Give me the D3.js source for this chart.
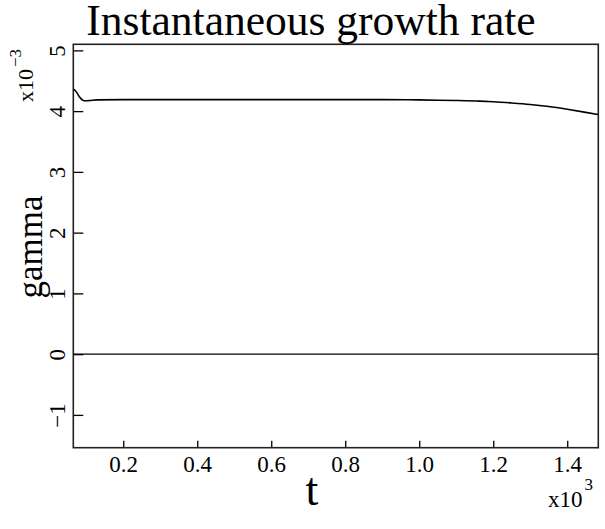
<!DOCTYPE html>
<html>
<head>
<meta charset="utf-8">
<script src="https://cdn.jsdelivr.net/npm/d3@7"></script>
<style>
  body { margin: 0; background: #fff; }
  text { font-family: "Liberation Serif", "Times New Roman", serif; fill: #000; }
</style>
</head>
<body>
<svg id="svg1"></svg>
<script>

// t in units of 10^3, gamma in units of 10^-3
var tVals = [0.065, 0.07, 0.075, 0.08, 0.085, 0.09, 0.095, 0.10, 0.11, 0.13, 0.2, 0.4, 0.6, 0.8, 0.9, 1.0, 1.05, 1.1, 1.164, 1.2, 1.25, 1.3, 1.35, 1.4, 1.45, 1.483];
var gammaVals = [4.36, 4.34, 4.30, 4.25, 4.21, 4.18, 4.17, 4.17, 4.175, 4.185, 4.19, 4.19, 4.19, 4.19, 4.19, 4.185, 4.18, 4.175, 4.165, 4.155, 4.135, 4.11, 4.075, 4.03, 3.98, 3.944];
var xTicks = [0.2, 0.4, 0.6, 0.8, 1.0, 1.2, 1.4];
var yTicks = [-1, 0, 1, 2, 3, 4, 5];

var width = 605, height = 529;
var margin = {top: 44.3, right: 6.7, bottom: 81.3, left: 73.3};
var w = width - margin.left - margin.right;
var h = height - margin.top - margin.bottom;

var svg = d3.select("#svg1")
    .attr("width", width)
    .attr("height", height);

var g = svg.append("g")
    .attr("transform", "translate(" + margin.left + "," + margin.top + ")");

var x = d3.scaleLinear()
    .domain([0.065, 1.484])
    .range([0, w]);

var y = d3.scaleLinear()
    .domain([-1.54, 5.1])
    .range([h, 0]);

// X axis, ticks pointing inward
var xAxis = g.append("g")
    .attr("transform", "translate(0," + h + ")")
    .call(d3.axisBottom(x).tickValues(xTicks).tickFormat(d3.format(".1f")).tickSizeInner(-7).tickSizeOuter(0).tickPadding(8));
xAxis.select(".domain").remove();
xAxis.selectAll("line").attr("stroke", "#000").attr("stroke-width", 1.3);
xAxis.selectAll("text")
    .attr("font-family", "Liberation Serif, serif")
    .attr("font-size", 23)
    .attr("fill", "#000");

// Y axis, ticks inward, rotated labels
var yAxis = g.append("g")
    .call(d3.axisLeft(y).tickValues(yTicks).tickFormat(function(d) { return d < 0 ? "\u2212" + (-d) : d; }).tickSizeInner(-10).tickSizeOuter(0));
yAxis.select(".domain").remove();
yAxis.selectAll("line").attr("stroke", "#000").attr("stroke-width", 1.3);
yAxis.selectAll("text")
    .attr("font-family", "Liberation Serif, serif")
    .attr("font-size", 23)
    .attr("fill", "#000")
    .attr("x", null).attr("dy", null)
    .attr("text-anchor", "middle")
    .attr("transform", "translate(-8,0) rotate(-90)");

// frame
g.append("rect")
    .attr("width", w)
    .attr("height", h)
    .attr("fill", "none")
    .attr("stroke", "#222")
    .attr("stroke-width", 1.6);

// zero line
g.append("line")
    .attr("x1", 0).attr("x2", w)
    .attr("y1", y(0)).attr("y2", y(0))
    .attr("stroke", "#000")
    .attr("stroke-width", 1.4);

// curve
var line = d3.line()
    .x(function(d, i) { return x(tVals[i]); })
    .y(function(d) { return y(d); })
    .curve(d3.curveMonotoneX);

g.append("path")
    .datum(gammaVals)
    .attr("d", line)
    .attr("fill", "none")
    .attr("stroke", "#000")
    .attr("stroke-width", 1.6);

// title
svg.append("text")
    .attr("x", 311)
    .attr("y", 35)
    .attr("text-anchor", "middle")
    .attr("font-size", 43.5)
    .text("Instantaneous growth rate");

// x label
svg.append("text")
    .attr("x", 312)
    .attr("y", 505)
    .attr("text-anchor", "middle")
    .attr("font-size", 46)
    .text("t");

// y label
svg.append("text")
    .attr("transform", "translate(42,247) rotate(-90)")
    .attr("text-anchor", "middle")
    .attr("font-size", 35)
    .text("gamma");

// exponent labels
var ex = svg.append("text")
    .attr("transform", "translate(33,102) rotate(-90)")
    .attr("font-size", 22);
ex.append("tspan").text("x10");
ex.append("tspan").attr("dy", -12).attr("dx", 2).attr("font-size", 17).text("\u22123");

var ex2 = svg.append("text")
    .attr("x", 548)
    .attr("y", 507)
    .attr("font-size", 23);
ex2.append("tspan").text("x10");
ex2.append("tspan").attr("dy", -17).attr("dx", 2).attr("font-size", 17).text("3");

</script>
</body>
</html>
